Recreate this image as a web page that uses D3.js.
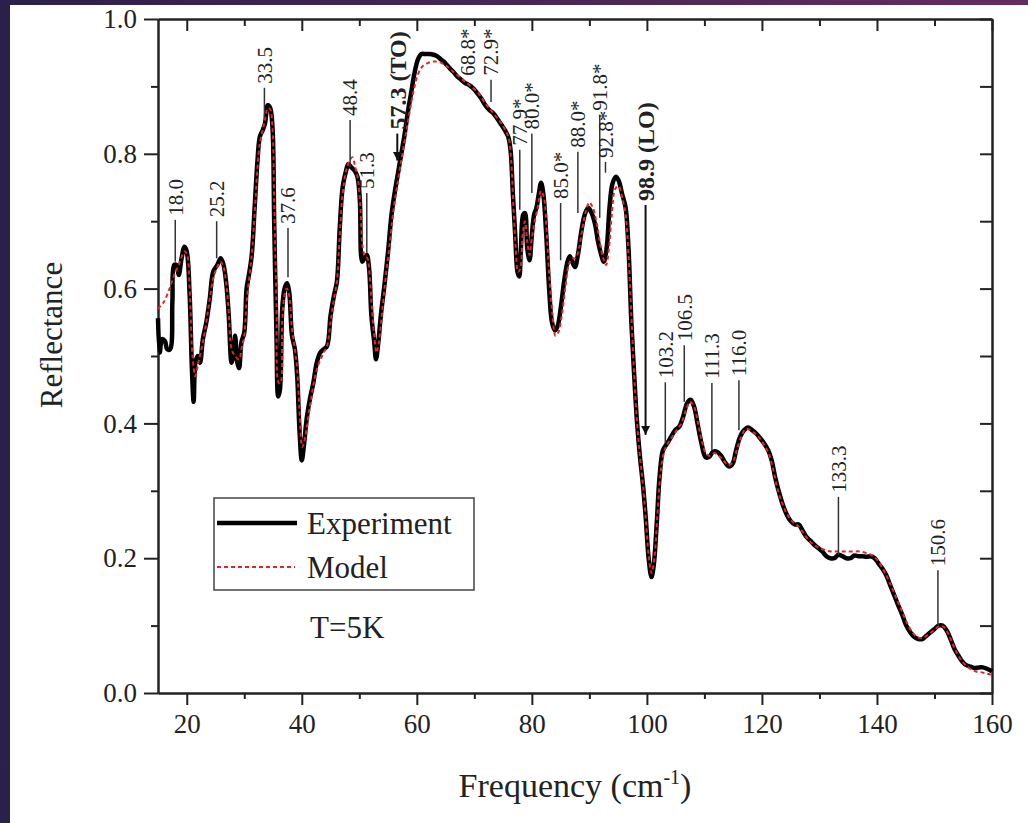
<!DOCTYPE html>
<html>
<head>
<meta charset="utf-8">
<script src="https://cdn.jsdelivr.net/npm/d3@7"></script>
<style>
  body { margin: 0; background: #fff; }
  text { font-family: "Liberation Serif", "Times New Roman", serif; fill: #222; }
</style>
</head>
<body>
<svg id="chart" width="1028" height="823"></svg>
<script>
// measured spectrum (experiment)
var expFreq = [15.0,15.3,15.7,16.2,16.6,17.1,17.5,17.8,18.2,18.6,19.1,19.6,20.0,20.5,20.9,21.2,21.5,21.9,22.3,22.8,
  23.4,24.0,24.6,25.3,25.9,26.4,26.9,27.3,27.8,28.1,28.4,28.8,29.1,29.5,30.0,30.4,30.8,31.3,31.8,32.3,
  32.7,33.2,33.6,34.1,34.5,34.9,35.2,35.6,35.9,36.2,36.6,37.0,37.4,37.8,38.3,38.8,39.2,39.6,40.0,40.4,
  40.9,41.5,42.0,42.6,43.2,43.8,44.4,45.0,45.6,46.1,46.6,47.1,47.7,48.1,48.6,49.2,49.7,50.1,50.5,50.9,
  51.3,51.7,52.1,52.6,52.9,53.3,53.8,54.3,55.0,55.6,56.2,56.8,57.3,57.9,58.4,59.0,59.6,60.2,60.8,61.5,
  62.2,62.9,63.5,64.2,64.9,65.6,66.3,67.0,67.7,68.4,69.1,69.8,70.5,71.2,71.9,72.6,73.3,74.0,74.7,75.3,
  75.9,76.3,76.7,77.1,77.5,77.8,78.1,78.5,78.8,79.2,79.6,80.0,80.4,80.8,81.2,81.6,82.0,82.5,83.0,83.5,
  84.0,84.5,85.0,85.6,86.2,86.6,87.0,87.5,88.0,88.6,89.2,89.8,90.4,91.0,91.5,92.0,92.5,93.0,93.5,94.0,
  94.6,95.1,95.7,96.3,96.8,97.3,97.8,98.3,98.8,99.3,99.8,100.3,100.8,101.2,101.7,102.2,102.8,103.5,104.2,104.9,
  105.6,106.3,107.0,107.6,108.2,108.8,109.5,110.2,110.8,111.5,112.2,112.9,113.6,114.3,114.9,115.5,116.2,116.9,117.6,118.3,
  119.0,119.7,120.4,121.1,121.7,122.3,122.9,123.6,124.3,125.0,125.7,126.4,127.0,127.7,128.4,129.1,129.8,130.5,131.2,131.9,
  132.6,133.3,134.0,134.7,135.4,136.1,136.8,137.5,138.2,138.9,139.6,140.2,140.9,141.6,142.3,143.0,143.7,144.4,145.1,145.8,
  146.5,147.2,147.9,148.6,149.3,150.0,150.7,151.4,152.1,152.8,153.5,154.2,154.9,155.6,156.3,157.0,157.7,158.4,159.1,159.6,160.0];
var expRefl = [0.556,0.505,0.525,0.522,0.51,0.51,0.58,0.635,0.635,0.62,0.645,0.662,0.655,0.59,0.48,0.432,0.49,0.50,0.49,0.525,
  0.55,0.585,0.625,0.635,0.645,0.635,0.605,0.56,0.49,0.50,0.53,0.49,0.482,0.52,0.535,0.60,0.62,0.65,0.72,0.79,
  0.825,0.835,0.845,0.872,0.868,0.84,0.70,0.53,0.44,0.45,0.57,0.60,0.608,0.595,0.53,0.51,0.47,0.39,0.345,0.37,
  0.41,0.44,0.46,0.49,0.505,0.51,0.515,0.56,0.59,0.61,0.69,0.75,0.775,0.785,0.78,0.775,0.765,0.73,0.64,0.645,
  0.65,0.63,0.56,0.52,0.495,0.52,0.565,0.60,0.655,0.71,0.745,0.775,0.80,0.83,0.86,0.89,0.92,0.94,0.948,0.948,
  0.948,0.947,0.945,0.94,0.935,0.928,0.922,0.915,0.91,0.905,0.902,0.897,0.89,0.882,0.872,0.865,0.86,0.852,0.843,0.835,
  0.825,0.805,0.74,0.68,0.625,0.618,0.66,0.71,0.712,0.66,0.642,0.68,0.71,0.72,0.74,0.757,0.74,0.68,0.60,0.55,
  0.538,0.545,0.57,0.61,0.64,0.648,0.64,0.632,0.65,0.685,0.71,0.72,0.712,0.695,0.67,0.652,0.64,0.66,0.72,0.755,
  0.766,0.76,0.74,0.72,0.66,0.55,0.47,0.40,0.35,0.31,0.26,0.20,0.172,0.19,0.25,0.32,0.36,0.37,0.38,0.39,
  0.395,0.41,0.43,0.435,0.425,0.40,0.37,0.35,0.35,0.358,0.358,0.352,0.342,0.336,0.34,0.36,0.38,0.39,0.394,0.39,
  0.385,0.378,0.37,0.36,0.345,0.32,0.30,0.28,0.265,0.255,0.25,0.25,0.242,0.232,0.226,0.22,0.215,0.21,0.203,0.20,
  0.20,0.205,0.203,0.20,0.20,0.204,0.203,0.203,0.202,0.203,0.20,0.193,0.185,0.175,0.16,0.145,0.13,0.116,0.10,0.09,
  0.083,0.08,0.08,0.085,0.09,0.095,0.10,0.10,0.093,0.08,0.065,0.055,0.046,0.041,0.039,0.037,0.038,0.038,0.036,0.034,0.032];

// fitted spectrum (model)
var modelFreq = [15.0,16.0,17.0,17.8,18.6,19.6,20.0,20.5,21.0,21.5,22.0,22.8,23.4,24.0,24.6,25.3,25.9,26.4,26.9,27.3,
  27.8,28.4,29.1,29.5,30.0,30.4,31.3,31.8,32.3,32.7,33.2,33.6,34.1,34.5,34.9,35.2,35.6,36.0,36.3,36.6,
  37.0,37.4,37.8,38.3,38.8,39.2,39.6,40.1,40.6,41.5,42.6,43.8,44.4,45.0,45.6,46.1,46.6,47.1,47.7,48.3,
  48.8,49.3,49.8,50.2,50.6,51.0,51.4,51.8,52.2,52.6,53.0,53.4,53.9,54.5,55.2,56.0,56.8,57.5,58.4,59.3,
  60.2,61.0,62.0,63.0,64.0,65.0,66.3,67.7,69.1,70.5,71.9,73.3,74.7,75.9,76.4,76.8,77.2,77.6,78.0,78.4,
  78.8,79.2,79.6,80.0,80.5,81.0,81.6,82.1,82.6,83.1,83.6,84.1,84.6,85.2,85.8,86.4,87.0,87.6,88.2,88.8,
  89.4,90.0,90.6,91.2,91.8,92.4,92.9,93.4,93.9,94.5,95.1,95.7,96.3,96.8,97.3,97.8,98.3,98.8,99.3,99.8,
  100.3,100.8,101.3,101.8,102.3,102.9,103.6,104.4,105.2,106.0,106.8,107.5,108.2,108.9,109.6,110.3,111.0,111.7,112.5,113.3,
  114.1,114.9,115.6,116.4,117.2,118.0,118.8,119.6,120.4,121.2,122.0,122.8,123.6,124.4,125.2,126.0,127.0,128.0,129.0,130.0,
  131.0,132.0,133.0,134.0,135.0,136.0,137.0,138.0,139.0,140.0,141.0,142.0,143.0,144.0,145.0,146.0,147.0,148.0,149.0,150.0,
  150.8,151.6,152.4,153.2,154.0,154.8,155.6,156.4,157.2,158.0,159.0,160.0];
var modelRefl = [0.57,0.58,0.60,0.62,0.635,0.655,0.652,0.60,0.50,0.47,0.49,0.52,0.55,0.585,0.615,0.632,0.64,0.632,0.605,0.565,
  0.51,0.50,0.495,0.51,0.53,0.58,0.65,0.71,0.78,0.815,0.835,0.85,0.868,0.866,0.84,0.73,0.58,0.46,0.46,0.55,
  0.59,0.60,0.59,0.54,0.51,0.48,0.42,0.365,0.38,0.43,0.48,0.505,0.515,0.55,0.585,0.61,0.68,0.74,0.775,0.79,
  0.795,0.78,0.76,0.72,0.66,0.648,0.645,0.62,0.57,0.53,0.505,0.52,0.56,0.61,0.66,0.72,0.765,0.80,0.845,0.888,
  0.918,0.93,0.935,0.937,0.936,0.931,0.922,0.912,0.902,0.892,0.875,0.86,0.845,0.825,0.79,0.72,0.66,0.625,0.63,0.68,
  0.70,0.67,0.65,0.675,0.70,0.72,0.745,0.735,0.68,0.61,0.56,0.53,0.535,0.56,0.60,0.635,0.645,0.645,0.66,0.69,
  0.715,0.728,0.72,0.70,0.67,0.645,0.635,0.66,0.71,0.748,0.752,0.735,0.71,0.65,0.56,0.47,0.40,0.35,0.31,0.26,
  0.205,0.178,0.20,0.26,0.32,0.355,0.37,0.38,0.39,0.40,0.42,0.432,0.425,0.40,0.372,0.355,0.352,0.356,0.352,0.345,
  0.338,0.342,0.36,0.38,0.392,0.39,0.385,0.378,0.368,0.355,0.33,0.30,0.28,0.265,0.255,0.25,0.24,0.228,0.22,0.215,
  0.212,0.21,0.21,0.21,0.21,0.21,0.21,0.208,0.205,0.198,0.185,0.168,0.148,0.128,0.108,0.092,0.083,0.082,0.087,0.094,
  0.099,0.098,0.088,0.072,0.058,0.047,0.04,0.035,0.032,0.031,0.029,0.027];

// peak annotations: label, frequency, leader top / bottom (reflectance)
var peakLabels = ["18.0","25.2","33.5","37.6","48.4","51.3","57.3 (TO)","68.8*","72.9*","77.9*","80.0*",
  "85.0*","88.0*","91.8*","92.8*","98.9 (LO)","103.2","106.5","111.3","116.0","133.3","150.6"];
var peakFreq = [18.0,25.2,33.5,37.6,48.4,51.3,57.3,68.8,72.9,77.9,80.0,85.0,88.0,91.8,92.8,98.9,103.2,106.5,111.3,116.0,133.3,150.6];
var peakTop = [0.702,0.70,0.898,0.69,0.85,0.742,0.83,0.91,0.91,0.806,0.83,0.727,0.803,0.858,0.788,0.724,0.461,0.516,0.46,0.464,0.291,0.182];
var peakBottom = [0.64,0.645,0.855,0.617,0.78,0.653,0.79,0.91,0.877,0.717,0.742,0.642,0.712,0.705,0.772,0.383,0.371,0.432,0.36,0.39,0.205,0.101];

var xTicks = [20, 40, 60, 80, 100, 120, 140, 160];
var xMinor = [30, 50, 70, 90, 110, 130, 150];
var yTicks = [0, 0.2, 0.4, 0.6, 0.8, 1.0];
var yMinor = [0.1, 0.3, 0.5, 0.7, 0.9];

var W = 1028, H = 823;
var margin = {top: 19, right: 36, bottom: 130, left: 158};
var svg = d3.select("#chart");

// dark slide frame
var defs = svg.append("defs");
var grad = defs.append("linearGradient").attr("id", "frame").attr("x1", 0).attr("x2", 1).attr("y1", 0).attr("y2", 0);
grad.append("stop").attr("offset", 0).attr("stop-color", "#2b2049");
grad.append("stop").attr("offset", 1).attr("stop-color", "#642c60");
svg.append("rect").attr("width", W).attr("height", H).attr("fill", "url(#frame)");
svg.append("rect").attr("x", 10).attr("y", 5).attr("width", W - 10).attr("height", H - 5).attr("fill", "#fff");

defs.append("marker")
    .attr("id", "arrow")
    .attr("viewBox", "0 0 10 10")
    .attr("refX", 10).attr("refY", 5)
    .attr("markerWidth", 9).attr("markerHeight", 9)
    .attr("markerUnits", "userSpaceOnUse")
    .attr("orient", "auto")
  .append("path")
    .attr("d", "M0,0L10,5L0,10z")
    .attr("fill", "#111");

var x = d3.scaleLinear().domain([15, 160]).range([margin.left, W - margin.right]);
var y = d3.scaleLinear().domain([0, 1]).range([H - margin.bottom, margin.top]);

var x0 = x.range()[0], x1 = x.range()[1], y0 = y.range()[0], y1 = y.range()[1];

function styleAxis(g) {
    g.selectAll(".domain").attr("stroke", "#222").attr("stroke-width", 2);
    g.selectAll(".tick line").attr("stroke", "#222").attr("stroke-width", 2);
}

// bottom axis (outward ticks)
svg.append("g").attr("transform", "translate(0," + y0 + ")")
    .call(d3.axisBottom(x).tickValues(xTicks).tickSize(12).tickSizeOuter(0).tickPadding(9))
    .call(styleAxis)
    .call(g => g.selectAll("text").attr("font-size", 27).attr("font-family", "Liberation Serif").attr("fill", "#222"));
svg.append("g").attr("transform", "translate(0," + y0 + ")")
    .call(d3.axisBottom(x).tickValues(xMinor).tickSize(6).tickSizeOuter(0).tickFormat(""))
    .call(styleAxis);

// top axis (inward ticks)
svg.append("g").attr("transform", "translate(0," + y1 + ")")
    .call(d3.axisBottom(x).tickValues(xTicks).tickSize(12).tickSizeOuter(0).tickFormat(""))
    .call(styleAxis);
svg.append("g").attr("transform", "translate(0," + y1 + ")")
    .call(d3.axisBottom(x).tickValues(xMinor).tickSize(7).tickSizeOuter(0).tickFormat(""))
    .call(styleAxis);

// left axis
svg.append("g").attr("transform", "translate(" + x0 + ",0)")
    .call(d3.axisLeft(y).tickValues(yTicks).tickSize(14).tickSizeOuter(0).tickPadding(7).tickFormat(d3.format(".1f")))
    .call(styleAxis)
    .call(g => g.selectAll("text").attr("font-size", 27).attr("font-family", "Liberation Serif").attr("fill", "#222"));
svg.append("g").attr("transform", "translate(" + x0 + ",0)")
    .call(d3.axisLeft(y).tickValues(yMinor).tickSize(7).tickSizeOuter(0).tickFormat(""))
    .call(styleAxis);

// right axis (inward ticks)
svg.append("g").attr("transform", "translate(" + x1 + ",0)")
    .call(d3.axisLeft(y).tickValues(yTicks).tickSize(12).tickSizeOuter(0).tickFormat(""))
    .call(styleAxis);
svg.append("g").attr("transform", "translate(" + x1 + ",0)")
    .call(d3.axisLeft(y).tickValues(yMinor).tickSize(12).tickSizeOuter(0).tickFormat(""))
    .call(styleAxis);

// axis titles
svg.append("text")
    .attr("transform", "translate(62,335) rotate(-90)")
    .attr("text-anchor", "middle")
    .attr("font-size", 31)
    .text("Reflectance");

var xt = svg.append("text")
    .attr("x", (x0 + x1) / 2)
    .attr("y", 797)
    .attr("text-anchor", "middle")
    .attr("font-size", 34);
xt.append("tspan").text("Frequency (cm");
xt.append("tspan").attr("font-size", 20).attr("dy", -13).text("-1");
xt.append("tspan").attr("dy", 13).text(")");

// curves
var expData = expFreq.map((f, i) => [f, expRefl[i]]);
var modelData = modelFreq.map((f, i) => [f, modelRefl[i]]);

var line = d3.line()
    .x(d => x(d[0]))
    .y(d => y(d[1]))
    .curve(d3.curveCatmullRom.alpha(0.5));

svg.append("path")
    .datum(expData)
    .attr("fill", "none")
    .attr("stroke", "#000")
    .attr("stroke-width", 4.5)
    .attr("stroke-linejoin", "round")
    .attr("d", line);

svg.append("path")
    .datum(modelData)
    .attr("fill", "none")
    .attr("stroke", "#e3242b")
    .attr("stroke-width", 2)
    .attr("stroke-dasharray", "4,3")
    .attr("d", line);

// peak annotations
var ann = svg.append("g").attr("class", "peaks");
peakLabels.forEach(function(lab, i) {
    var isMode = lab.indexOf("(") >= 0;
    var px = x(peakFreq[i]) + (isMode ? (peakFreq[i] < 70 ? -4 : 5) : 0);
    var yt = y(peakTop[i]), yb = y(peakBottom[i]);
    if (yb - yt > 1) {
        ann.append("line")
            .attr("x1", px).attr("x2", px)
            .attr("y1", yt).attr("y2", yb)
            .attr("stroke", isMode ? "#111" : "#333")
            .attr("stroke-width", isMode ? 2 : 1.5)
            .attr("marker-end", isMode ? "url(#arrow)" : null);
    }
    ann.append("text")
        .attr("transform", "translate(" + px + "," + (yt - 4) + ") rotate(-90)")
        .attr("dy", "0.35em")
        .attr("font-size", isMode ? 24 : 21)
        .attr("font-weight", isMode ? "bold" : "normal")
        .text(lab);
});

// legend
var lg = svg.append("g");
lg.append("rect")
    .attr("x", 214).attr("y", 498).attr("width", 260).attr("height", 92)
    .attr("fill", "#fff").attr("stroke", "#444").attr("stroke-width", 1.5);
lg.append("line").attr("x1", 217).attr("x2", 297).attr("y1", 523).attr("y2", 523)
    .attr("stroke", "#000").attr("stroke-width", 4.5);
lg.append("text").attr("x", 307).attr("y", 534).attr("font-size", 31).text("Experiment");
lg.append("line").attr("x1", 217).attr("x2", 295).attr("y1", 567).attr("y2", 567)
    .attr("stroke", "#e3242b").attr("stroke-width", 2).attr("stroke-dasharray", "4,3");
lg.append("text").attr("x", 307).attr("y", 578).attr("font-size", 31).text("Model");

svg.append("text").attr("x", 310).attr("y", 638).attr("font-size", 31).text("T=5K");
</script>
</body>
</html>
